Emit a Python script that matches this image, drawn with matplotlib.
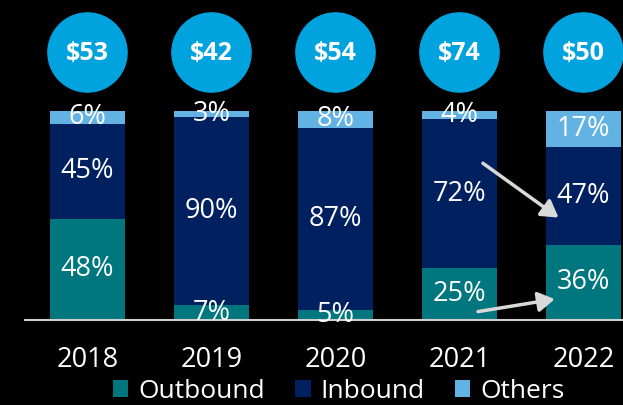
import numpy as np
import matplotlib.pyplot as plt

# datos
years = ['2018', '2019', '2020', '2021', '2022']
outbound = np.array([48, 7, 5, 25, 36])
inbound = np.array([45, 90, 87, 72, 47])
others = np.array([6, 3, 8, 4, 17])
valores = ['$53', '$42', '$54', '$74', '$50']

# flechas (inicio x, y -> fin x, y) en coordenadas de datos
flecha_ini = [(3.19, 75), (3.15, 4)]
flecha_fin = [(3.80, 49), (3.77, 10)]

c_out = '#00767E'
c_in = '#00205F'
c_oth = '#62B3E4'
c_circ = '#00A3DE'
c_fle = '#D9D9D9'

plt.rcParams['font.family'] = ['Open Sans', 'DejaVu Sans']

fig = plt.figure(figsize=(6.23, 4.05), dpi=100, facecolor='black')
ax = fig.add_axes([25 / 623, 1 - 320 / 405, 1 - 25 / 623, 320 / 405])
ax.set_facecolor('black')

# normalizar a 100% para que todas las barras lleguen arriba
total = outbound + inbound + others
o = outbound / total * 100
i_ = inbound / total * 100
t = others / total * 100

x = np.arange(len(years))
w = 0.6
ax.bar(x, o, w, color=c_out, label='Outbound')
ax.bar(x, i_, w, bottom=o, color=c_in, label='Inbound')
ax.bar(x, t, w, bottom=o + i_, color=c_oth, label='Others')

fs = 19.5
for k in range(len(years)):
    ax.text(x[k], o[k] / 2, f'{outbound[k]}%', color='white', ha='center', va='center', fontsize=fs)
    ax.text(x[k], o[k] + i_[k] / 2, f'{inbound[k]}%', color='white', ha='center', va='center', fontsize=fs)
    ax.text(x[k], o[k] + i_[k] + t[k] / 2, f'{others[k]}%', color='white', ha='center', va='center', fontsize=fs)

# circulos con el valor
ax.scatter(x, np.full(len(x), 128.2), s=3250, color=c_circ, clip_on=False, zorder=3)
for k in range(len(years)):
    ax.text(x[k], 127.5, valores[k], color='white', ha='center', va='center',
            fontsize=18, fontweight='bold', zorder=4)

for ini, fin in zip(flecha_ini, flecha_fin):
    ax.annotate('', xy=fin, xytext=ini,
                arrowprops=dict(arrowstyle='-|>,head_length=1.0,head_width=0.6',
                                color=c_fle, lw=2.5, shrinkA=0, shrinkB=0), zorder=5)

ax.set_xlim(-0.504, 4.32)
ax.set_ylim(0, 153.1)
ax.set_xticks(x)
ax.set_xticklabels(years, color='white', fontsize=19.5)
ax.tick_params(axis='x', length=0, pad=19)
ax.set_yticks([])
for s in ['top', 'right', 'left']:
    ax.spines[s].set_visible(False)
ax.spines['bottom'].set_color('#D0D0D0')
ax.spines['bottom'].set_linewidth(1.5)

leg = fig.legend(loc='center', bbox_to_anchor=(0.544, 1 - 391 / 405), ncol=3, frameon=False,
                 fontsize=19, handlelength=0.58, handleheight=0.62, handletextpad=0.38,
                 columnspacing=1.15, labelcolor='white', borderpad=0)

fig.savefig('out.png', dpi=100, facecolor='black')
